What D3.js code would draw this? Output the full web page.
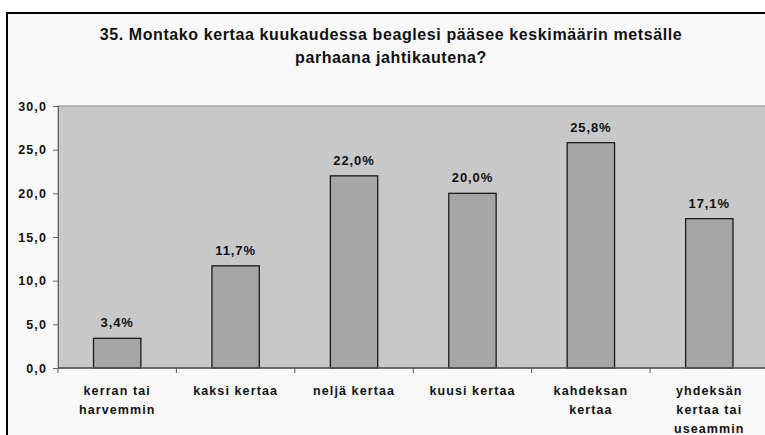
<!DOCTYPE html>
<html><head><meta charset="utf-8">
<script src="https://cdn.jsdelivr.net/npm/d3@7"></script>
<style>body{margin:0;background:#fff}svg{display:block}</style>
</head><body>
<svg id="c" width="765" height="435"></svg>
<script>
const titleLines = ["35. Montako kertaa kuukaudessa beaglesi pääsee keskimäärin metsälle", "parhaana jahtikautena?"];
const categories = [["kerran tai","harvemmin"],["kaksi kertaa"],["neljä kertaa"],["kuusi kertaa"],["kahdeksan","kertaa"],["yhdeksän","kertaa tai","useammin"]];
const values = [3.4, 11.7, 22.0, 20.0, 25.8, 17.1];
const yTicks = [0, 5, 10, 15, 20, 25, 30];

const svg = d3.select("#c");
const font = "'Liberation Sans', Arial, sans-serif";
const L = 58, R = 768.5, T = 106, B = 368;

svg.append("rect").attr("x",7).attr("y",13).attr("width",800).attr("height",500)
  .attr("fill","#f8f8f8").attr("stroke","#000").attr("stroke-width",2);

const x = d3.scaleBand().domain(d3.range(categories.length)).range([L,R]).paddingInner(0.6).paddingOuter(0.3);
const y = d3.scaleLinear().domain([0,30]).range([B,T]);

svg.append("rect").attr("x",L).attr("y",T).attr("width",R-L).attr("height",B-T)
  .attr("fill","#c8c8c8").attr("stroke","#8a8a8a").attr("stroke-width",1);

// title
svg.append("g").selectAll("text").data(titleLines).join("text")
  .attr("x",391).attr("y",(d,i)=>40+i*23).attr("text-anchor","middle")
  .attr("font-family",font).attr("font-weight","bold").attr("font-size",16).attr("letter-spacing",0.6).attr("fill","#111")
  .text(d=>d);

// y axis
const yAxis = svg.append("g").attr("transform",`translate(${L},0)`)
  .call(d3.axisLeft(y).tickValues(yTicks).tickSize(5).tickPadding(6).tickFormat(d=>d3.format(".1f")(d).replace(".",",")));
yAxis.select(".domain").attr("stroke","#666");
yAxis.selectAll(".tick line").attr("stroke","#666");
yAxis.selectAll("text").attr("font-family",font).attr("font-weight","bold").attr("font-size",12.5).attr("letter-spacing",1.1).attr("fill","#111");

// bars
svg.append("g").selectAll("rect").data(values).join("rect")
  .attr("x",(d,i)=>x(i)).attr("width",x.bandwidth())
  .attr("y",d=>y(d)).attr("height",d=>B-y(d))
  .attr("fill","#a6a6a6").attr("stroke","#1a1a1a").attr("stroke-width",1.3);

svg.append("g").selectAll("text").data(values).join("text")
  .attr("x",(d,i)=>x(i)+x.bandwidth()/2).attr("y",d=>y(d)-11)
  .attr("text-anchor","middle").attr("font-family",font).attr("font-weight","bold").attr("font-size",13).attr("letter-spacing",0.9).attr("fill","#111")
  .text(d=>d3.format(".1f")(d).replace(".",",")+"%");

// x axis line and boundary ticks
svg.append("line").attr("x1",L).attr("x2",R).attr("y1",B).attr("y2",B).attr("stroke","#555").attr("stroke-width",1.5);
svg.append("g").selectAll("line").data(d3.range(categories.length+1)).join("line")
  .attr("x1",i=>L+i*(R-L)/categories.length).attr("x2",i=>L+i*(R-L)/categories.length)
  .attr("y1",B).attr("y2",B+5).attr("stroke","#555");

const lab = svg.append("g").selectAll("text").data(categories).join("text")
  .attr("text-anchor","middle").attr("font-family",font).attr("font-weight","bold").attr("font-size",12.5)
  .attr("fill","#111").attr("letter-spacing",1.1);
lab.each(function(lines,i){
  d3.select(this).selectAll("tspan").data(lines).join("tspan")
    .attr("x",x(i)+x.bandwidth()/2).attr("y",(d,j)=>395+j*19).text(d=>d);
});
</script>
</body></html>
